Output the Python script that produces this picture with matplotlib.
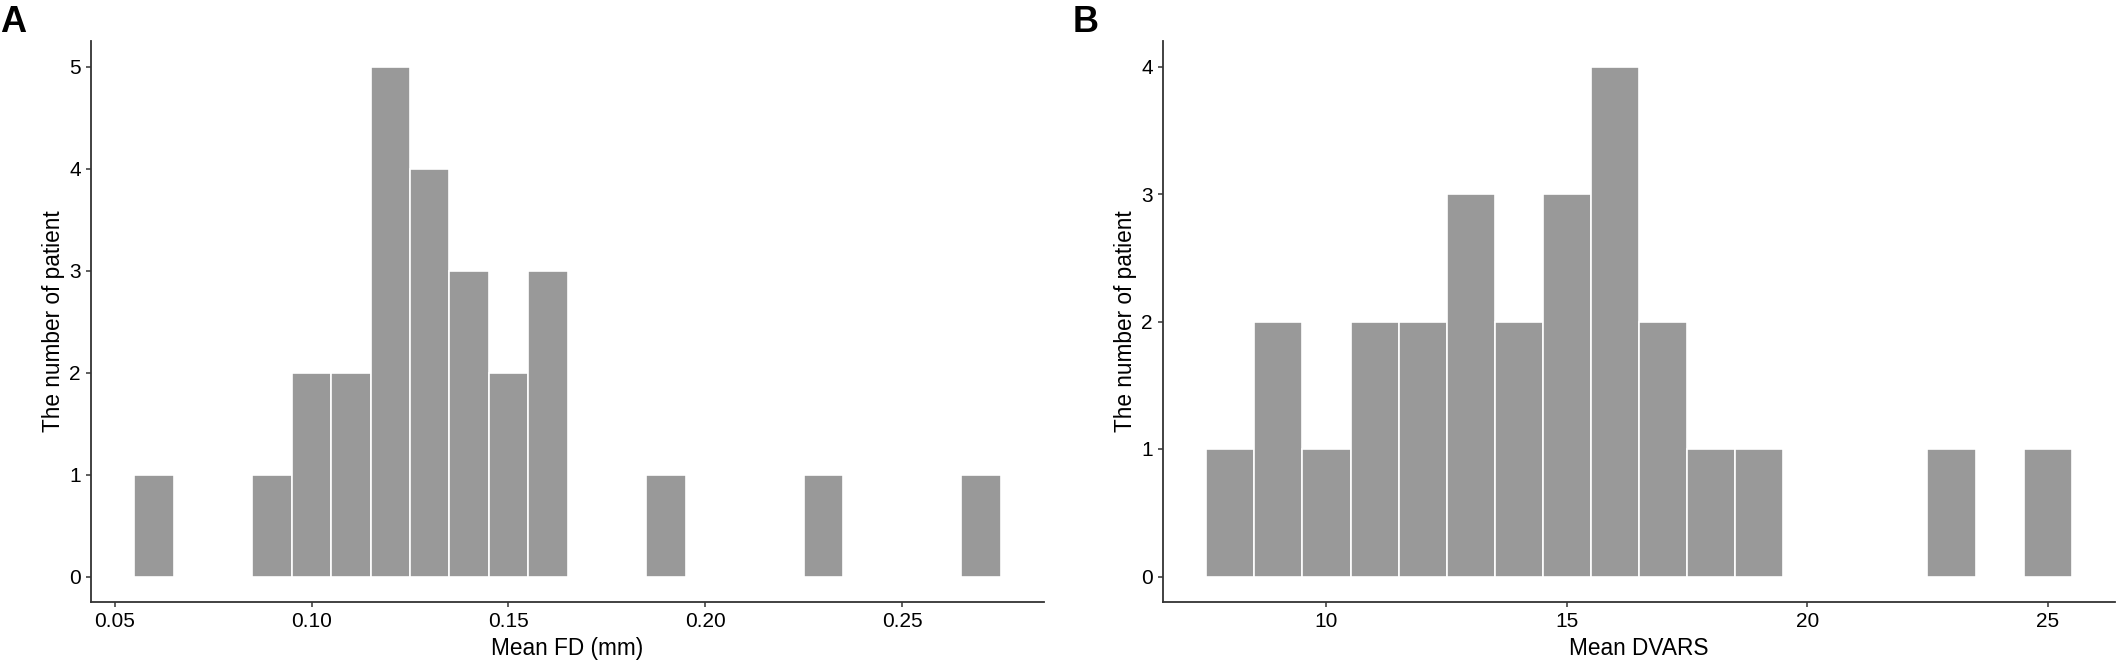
import matplotlib
matplotlib.use("Agg")
import matplotlib.pyplot as plt

plt.rcParams['font.family'] = ['Liberation Sans', 'DejaVu Sans']

# Panel A: Mean FD histogram (bin centers, width 0.01)
fd_centers = [0.06, 0.09, 0.10, 0.11, 0.12, 0.13, 0.14, 0.15, 0.16, 0.19, 0.23, 0.27]
fd_counts = [1, 1, 2, 2, 5, 4, 3, 2, 3, 1, 1, 1]
fd_binwidth = 0.01
fd_xticks = [0.05, 0.10, 0.15, 0.20, 0.25]
fd_xticklabels = ["0.05", "0.10", "0.15", "0.20", "0.25"]
fd_yticks = [0, 1, 2, 3, 4, 5]

# Panel B: Mean DVARS histogram (bin centers, width 1)
dv_centers = [8, 9, 10, 11, 12, 13, 14, 15, 16, 17, 18, 19, 23, 25]
dv_counts = [1, 2, 1, 2, 2, 3, 2, 3, 4, 2, 1, 1, 1, 1]
dv_binwidth = 1.0
dv_xticks = [10, 15, 20, 25]
dv_yticks = [0, 1, 2, 3, 4]

W, H = 2126, 669
fig = plt.figure(figsize=(W / 100, H / 100), dpi=100)

bar_color = "#999999"
axis_color = "#333333"
tick_fs = 15
label_fs = 16.3


def style(ax):
    for s in ["top", "right"]:
        ax.spines[s].set_visible(False)
    for s in ["left", "bottom"]:
        ax.spines[s].set_color(axis_color)
        ax.spines[s].set_linewidth(1.3)
    ax.tick_params(axis="both", length=3.6, width=1.1, color=axis_color,
                   labelsize=tick_fs, labelcolor="black", pad=3.6)


def px_axes(left, right, top, bottom):
    return fig.add_axes([left / W, 1 - bottom / H, (right - left) / W, (bottom - top) / H])


# Panel A
axA = px_axes(91, 1044, 41, 602)
axA.bar(fd_centers, fd_counts, width=fd_binwidth, color=bar_color,
        edgecolor="white", linewidth=1.2)
axA.set_xlim(0.044, 0.286)
axA.set_ylim(-0.25, 5.25)
axA.set_xticks(fd_xticks)
axA.set_xticklabels(fd_xticklabels)
axA.set_yticks(fd_yticks)
axA.set_xlabel("Mean FD (mm)", fontsize=label_fs, labelpad=4)
axA.set_ylabel("The number of patient", fontsize=label_fs, labelpad=3)
style(axA)

# Panel B
axB = px_axes(1163, 2115, 41, 602)
axB.bar(dv_centers, dv_counts, width=dv_binwidth, color=bar_color,
        edgecolor="white", linewidth=1.2)
axB.set_xlim(6.6, 26.4)
axB.set_ylim(-0.2, 4.2)
axB.set_xticks(dv_xticks)
axB.set_yticks(dv_yticks)
axB.set_xlabel("Mean DVARS", fontsize=label_fs, labelpad=4)
axB.set_ylabel("The number of patient", fontsize=label_fs, labelpad=3)
style(axB)

fig.text(0 / W, 1 - 32 / H, "A", fontsize=26, fontweight="bold", ha="left", va="baseline")
fig.text(1073 / W, 1 - 32 / H, "B", fontsize=26, fontweight="bold", ha="left", va="baseline")

fig.savefig("out.png", dpi=100, facecolor="white")
